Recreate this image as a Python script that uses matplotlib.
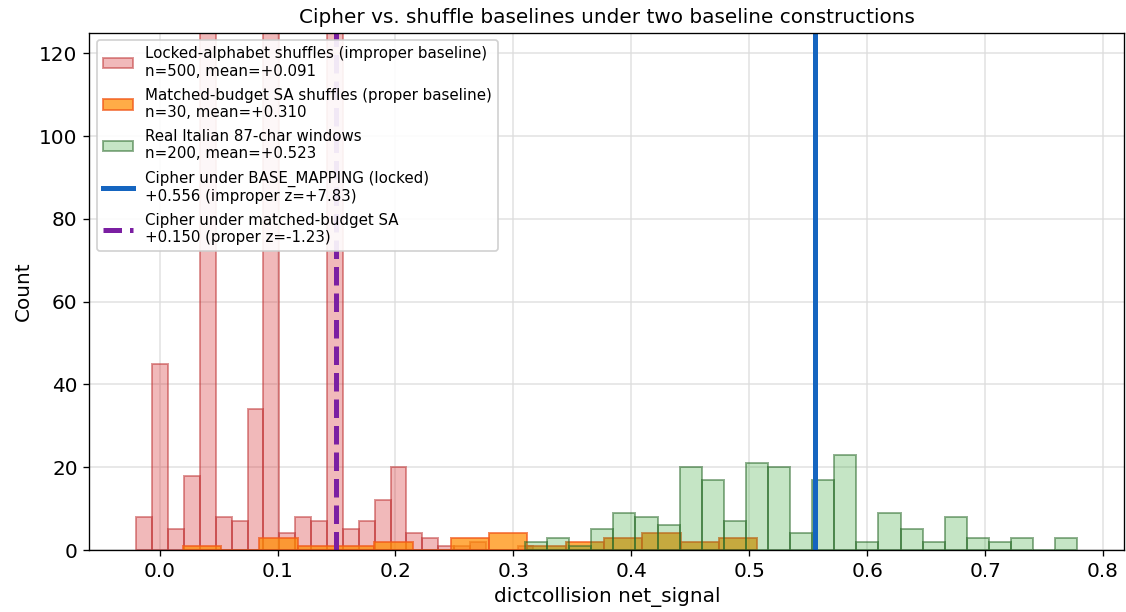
import numpy as np
import matplotlib
matplotlib.use("Agg")
import matplotlib.pyplot as plt

# histogram counts (bin start, bin width, counts per bin)
# the three tall locked bins run past the top of the axes
locked_start = -0.0197
locked_width = 0.01347
locked_counts = [8, 45, 5, 18, 132, 8, 7, 34, 132, 4, 8, 7, 132, 5, 7, 12, 20, 4, 3, 1,
                 1, 2, 0, 0, 1]

sa_start = 0.0198
sa_width = 0.03246
sa_counts = [1, 0, 3, 1, 1, 2, 0, 3, 4, 1, 2, 3, 4, 2, 3]

real_start = 0.3099
real_width = 0.01873
real_counts = [2, 3, 1, 5, 9, 8, 6, 20, 17, 7, 21, 20, 4, 17, 23, 2, 9, 5, 2, 8,
               3, 2, 3, 0, 3]

cipher_locked = 0.556
cipher_sa = 0.150

labels = [
    "Locked-alphabet shuffles (improper baseline)\nn=500, mean=+0.091",
    "Matched-budget SA shuffles (proper baseline)\nn=30, mean=+0.310",
    "Real Italian 87-char windows\nn=200, mean=+0.523",
    "Cipher under BASE_MAPPING (locked)\n+0.556 (improper z=+7.83)",
    "Cipher under matched-budget SA\n+0.150 (proper z=-1.23)",
]


def hist_from_counts(ax, start, width, counts, face, edge, label):
    counts = np.array(counts)
    edges = start + width * np.arange(len(counts) + 1)
    centers = (edges[:-1] + edges[1:]) / 2
    ax.hist(centers, bins=edges, weights=counts, facecolor=face, edgecolor=edge,
            linewidth=1.2, label=label)


fig, ax = plt.subplots(figsize=(1126 / 120, 612 / 120), dpi=120)
fig.subplots_adjust(left=0.0793, right=0.9985, top=0.9466, bottom=0.1013)

hist_from_counts(ax, locked_start, locked_width, locked_counts,
                 (0.84, 0.15, 0.16, 0.32), (0.75, 0.2, 0.2, 0.5), labels[0])
hist_from_counts(ax, sa_start, sa_width, sa_counts,
                 (1.0, 0.55, 0.0, 0.72), (0.95, 0.35, 0.1, 0.7), labels[1])
hist_from_counts(ax, real_start, real_width, real_counts,
                 (0.17, 0.63, 0.17, 0.27), (0.15, 0.4, 0.15, 0.5), labels[2])

ax.axvline(cipher_locked, color="#1565c0", linewidth=3, label=labels[3])
ax.axvline(cipher_sa, color="#7b1fa2", linewidth=3, linestyle="--", label=labels[4])

ax.set_ylim(0, 125)
ax.grid(True, color="#dddddd", linewidth=1, alpha=0.8)
ax.set_axisbelow(True)
ax.tick_params(labelsize=12)
ax.set_xlabel("dictcollision net_signal", fontsize=12)
ax.set_ylabel("Count", fontsize=12)
ax.set_title("Cipher vs. shuffle baselines under two baseline constructions", fontsize=12)
ax.legend(loc="upper left", fontsize=9, framealpha=0.9, labelspacing=0.6)

fig.savefig("out.png", dpi=120)
